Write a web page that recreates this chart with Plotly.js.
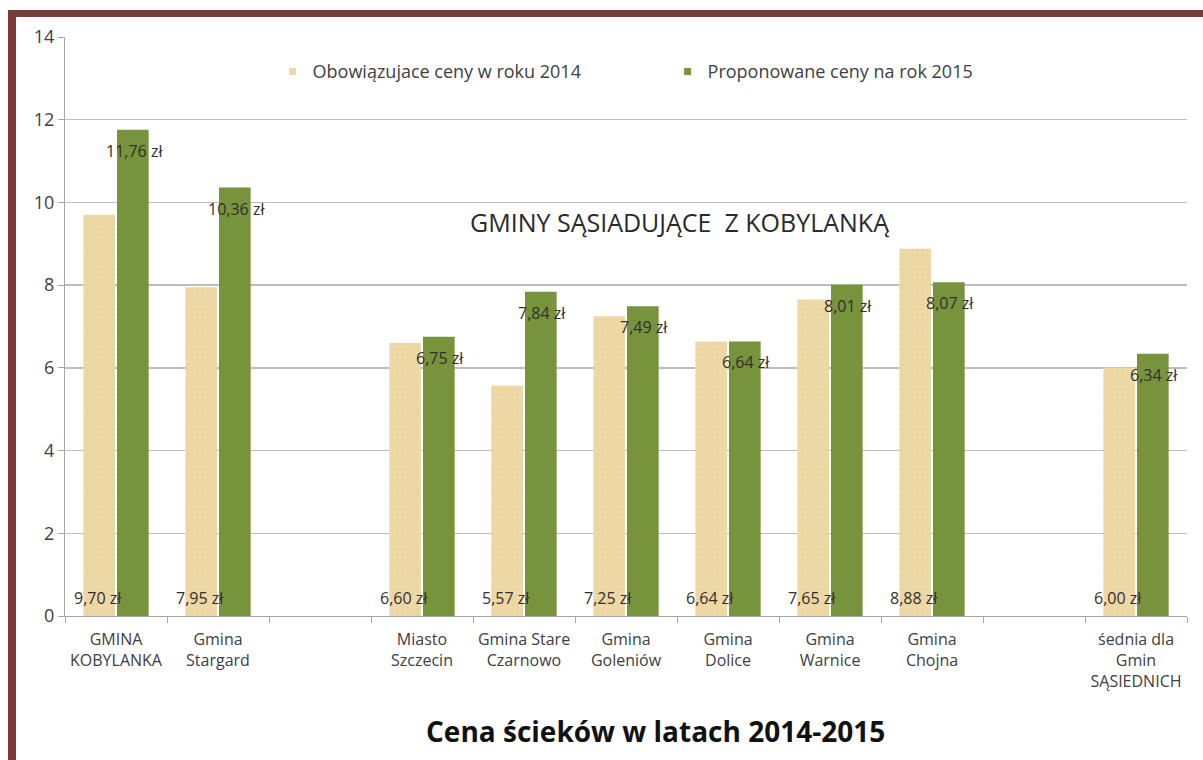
<!DOCTYPE html>
<html>
<head>
<meta charset="utf-8">
<script src="https://cdn.plot.ly/plotly-3.0.1.min.js"></script>
<style>
  html, body { margin: 0; padding: 0; background: #ffffff; }
  #wrap { position: relative; width: 1203px; height: 760px; overflow: hidden; }
  #frame { position: absolute; left: 8px; top: 10px; width: 1300px; height: 800px;
           border-left: 8px solid #7c3b3b; border-top: 7px solid #7c3b3b; box-sizing: border-box;
           pointer-events: none; z-index: 5; }
  #chart { position: absolute; left: 0; top: 0; width: 1203px; height: 760px; }
</style>
</head>
<body>
<div id="wrap">
  <div id="chart"></div>
  <div id="frame"></div>
</div>
<script>
// ---- data ----
const categories = ["GMINA<br>KOBYLANKA", "Gmina<br>Stargard", " ", "Miasto<br>Szczecin",
  "Gmina Stare<br>Czarnowo", "Gmina<br>Goleniów", "Gmina<br>Dolice", "Gmina<br>Warnice",
  "Gmina<br>Chojna", "  ", "śednia dla<br>Gmin<br>SĄSIEDNICH"];
const prices2014 = [9.70, 7.95, null, 6.60, 5.57, 7.25, 6.64, 7.65, 8.88, null, 6.00];
const prices2015 = [11.76, 10.36, null, 6.75, 7.84, 7.49, 6.64, 8.01, 8.07, null, 6.34];
const seriesNames = ["Obowiązujace ceny w roku 2014", "Proponowane ceny na rok 2015"];
const yTicks = [0, 2, 4, 6, 8, 10, 12, 14];
const chartTitle = "Cena ścieków w latach 2014-2015";
const groupNote = "GMINY SĄSIADUJĄCE  Z KOBYLANKĄ";

const fmt = v => v.toFixed(2).replace(".", ",") + " zł";
const FONT = "Open Sans, Lato, DejaVu Sans, sans-serif";
const BEIGE = "#eed9a6", GREEN = "#77933c";

const traces = [
  {
    type: "bar", name: seriesNames[0], x: categories, y: prices2014, showlegend: false,
    marker: { color: BEIGE, line: { width: 0 },
      pattern: { shape: ".", fgcolor: "#dcc48c", size: 5, solidity: 0.12, fillmode: "overlay" } },
    hoverinfo: "skip"
  },
  {
    type: "bar", name: seriesNames[1], x: categories, y: prices2015, showlegend: false,
    marker: { color: GREEN, line: { width: 0 } },
    hoverinfo: "skip"
  },
  // legend-only entries with small square keys
  { type: "scatter", mode: "markers", name: seriesNames[0], x: [null], y: [null],
    marker: { symbol: "square", size: 7, color: BEIGE }, hoverinfo: "skip" },
  { type: "scatter", mode: "markers", name: seriesNames[1], x: [null], y: [null],
    marker: { symbol: "square", size: 7, color: GREEN }, hoverinfo: "skip" }
];

const annotations = [];
categories.forEach((c, i) => {
  if (prices2014[i] != null) {
    annotations.push({ x: c, y: 0, xref: "x", yref: "y", text: fmt(prices2014[i]),
      showarrow: false, xshift: -18, yshift: 18, yanchor: "middle", xanchor: "center",
      font: { family: FONT, size: 16, color: "#303030" } });
  }
  if (prices2015[i] != null) {
    annotations.push({ x: c, y: prices2015[i], xref: "x", yref: "y", text: fmt(prices2015[i]),
      showarrow: false, xshift: 18, yshift: -21, yanchor: "middle", xanchor: "center",
      font: { family: FONT, size: 16, color: "#303030" } });
  }
});
annotations.push({ x: 0.548, y: 0.68, xref: "paper", yref: "paper", text: groupNote,
  showarrow: false, xanchor: "center", yanchor: "middle",
  font: { family: FONT, size: 25, color: "#2a2a2a" } });

const layout = {
  width: 1203, height: 760,
  margin: { l: 65, r: 16, t: 37, b: 144 },
  paper_bgcolor: "#ffffff", plot_bgcolor: "#ffffff",
  font: { family: FONT, color: "#404040", size: 12 },
  title: { text: chartTitle, x: 0.545, xanchor: "center", y: 0.036, yanchor: "middle",
    font: { family: FONT, size: 28, color: "#111111", weight: "bold" } },
  barmode: "group", bargap: 0.34, bargroupgap: 0.06,
  showlegend: true,
  legend: { orientation: "h", x: 0.185, xanchor: "left", y: 0.94, yanchor: "middle",
    entrywidth: 350, font: { family: FONT, size: 18, color: "#404040" },
    bgcolor: "rgba(0,0,0,0)" },
  xaxis: { type: "category", categoryorder: "array", categoryarray: categories,
    tickson: "boundaries", ticks: "outside", ticklen: 6, tickcolor: "#a6a6a6",
    showline: true, linecolor: "#a6a6a6", linewidth: 1, showgrid: false,
    tickfont: { family: FONT, size: 16, color: "#404040" }, ticklabelstandoff: 9,
    fixedrange: true },
  yaxis: { range: [0, 14], tickvals: yTicks, ticks: "outside", ticklen: 6, tickcolor: "#a6a6a6",
    showline: true, linecolor: "#a6a6a6", linewidth: 1,
    showgrid: true, gridcolor: "#bdbdbd", gridwidth: 1.5, zeroline: false,
    tickfont: { family: FONT, size: 18, color: "#404040" }, fixedrange: true },
  annotations: annotations
};

Plotly.newPlot("chart", traces, layout, { displayModeBar: false, staticPlot: true });
</script>
</body>
</html>
